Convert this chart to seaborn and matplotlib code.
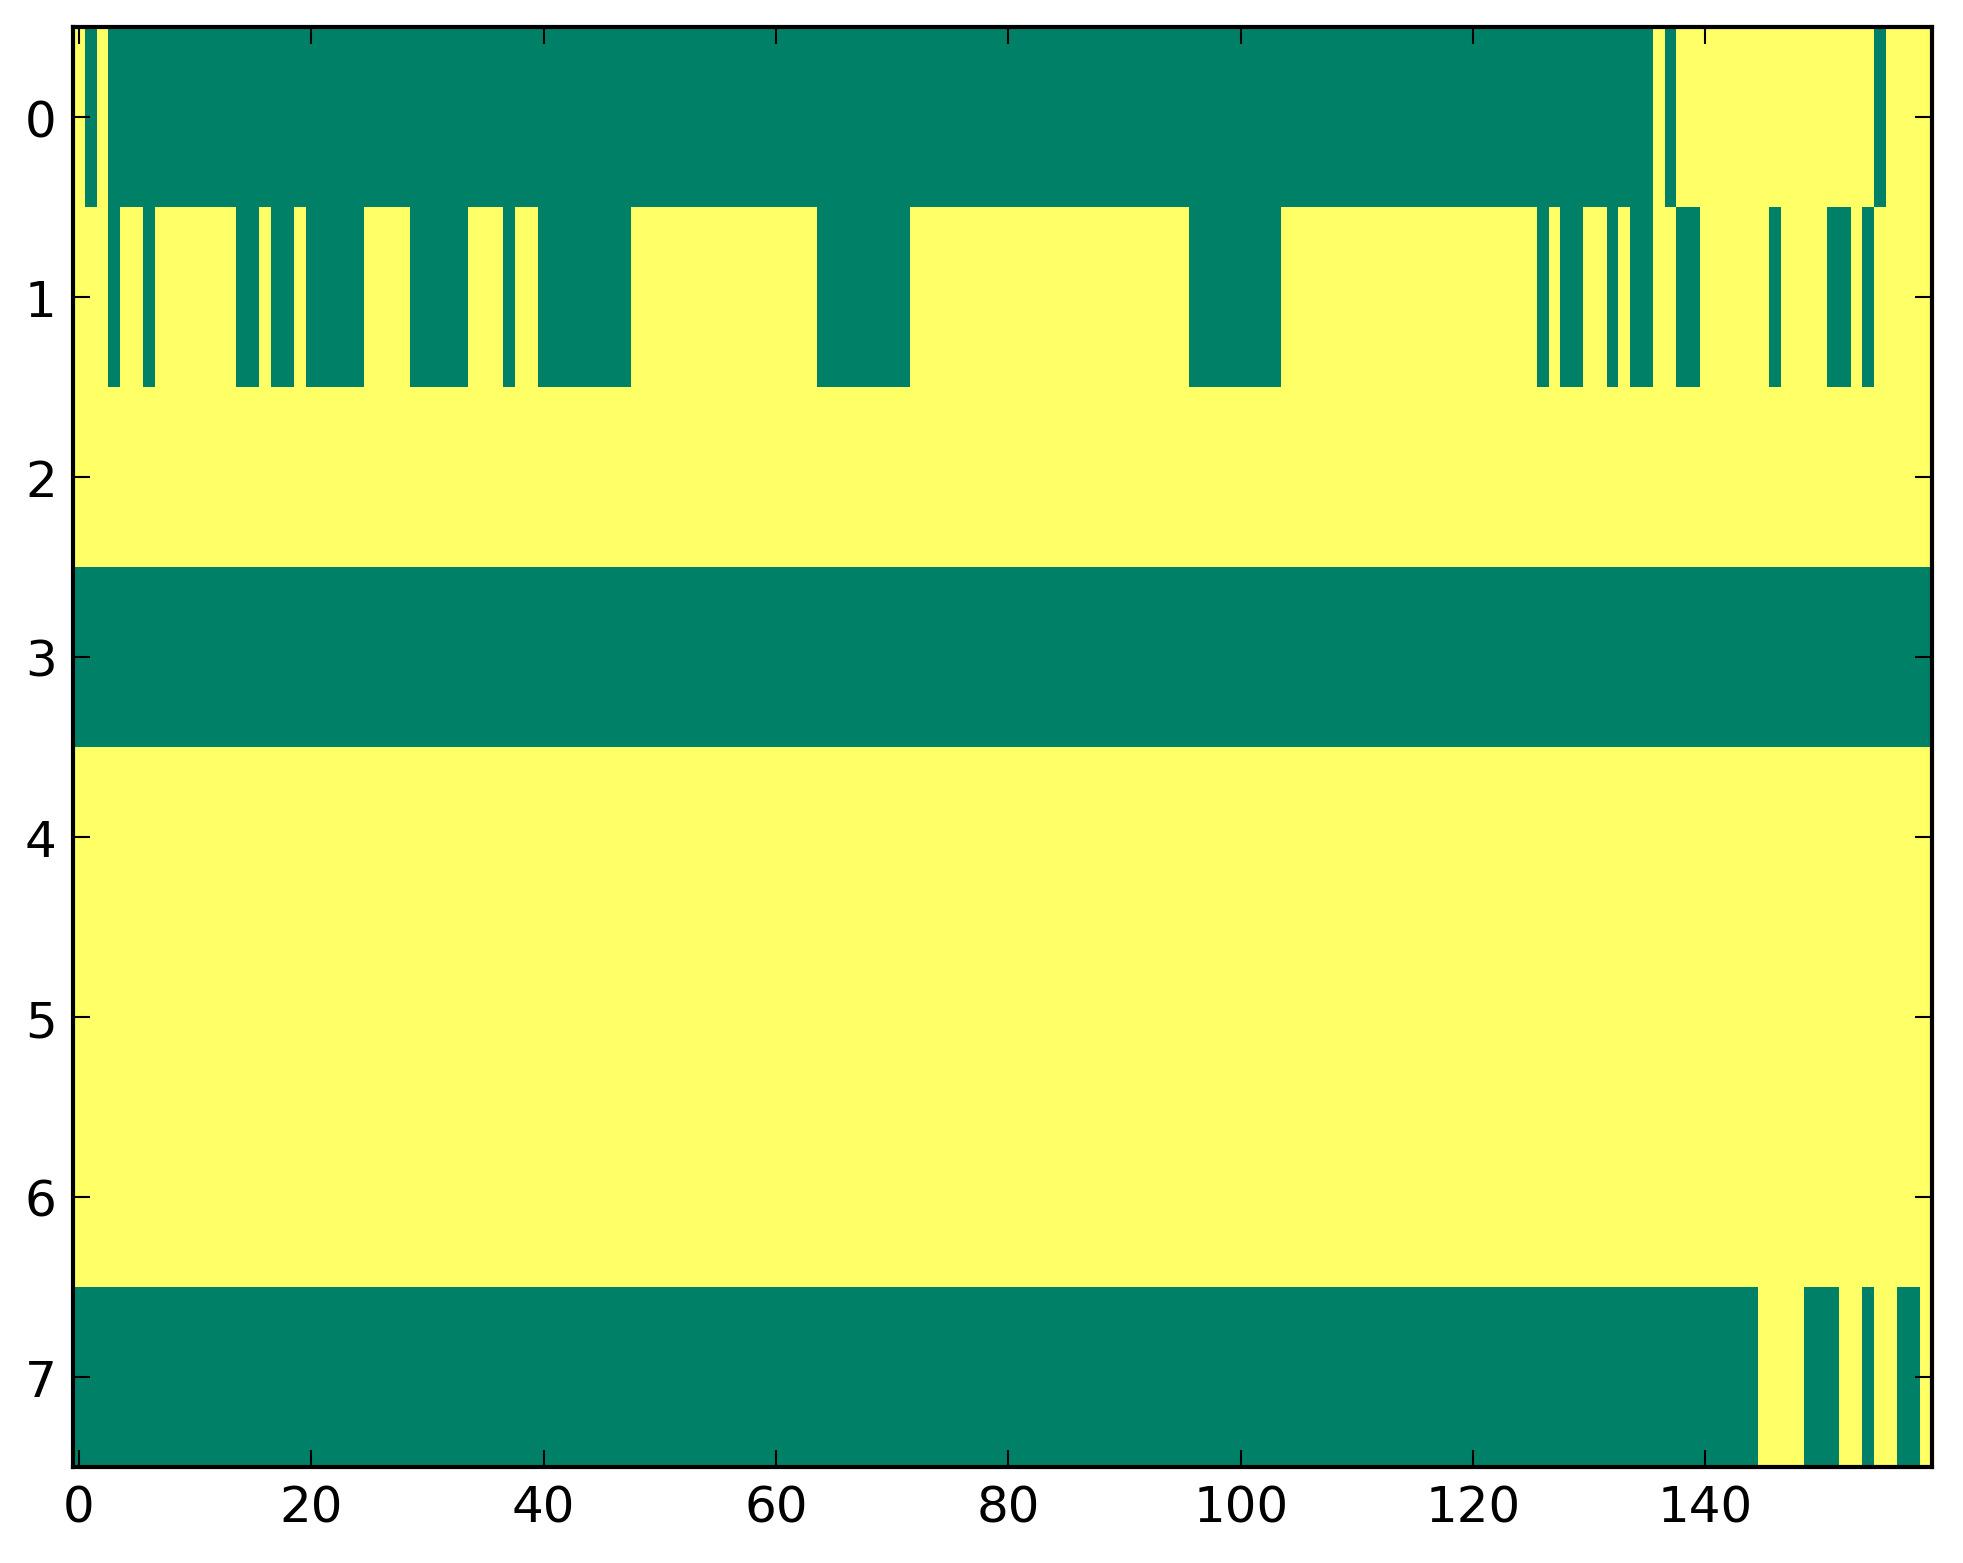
import numpy as np
import pandas as pd
import matplotlib
matplotlib.use("Agg")
import matplotlib.pyplot as plt
import seaborn as sns

n_cols = 160
row_labels = [0, 1, 2, 3, 4, 5, 6, 7]
x_tick_values = [0, 20, 40, 60, 80, 100, 120, 140]

# runs (inclusive column ranges) of value 0 in each row; all other cells are 1
row0_zero_runs = [(1, 1), (3, 135), (137, 137), (155, 155)]
row1_zero_runs = [(3, 3), (6, 6), (14, 15), (17, 18), (20, 24), (29, 33), (37, 37),
                  (40, 47), (64, 71), (96, 103), (126, 126), (128, 129), (132, 132),
                  (134, 135), (138, 139), (146, 146), (151, 152), (154, 154)]
row2_zero_runs = []
row3_zero_runs = [(0, 159)]
row4_zero_runs = []
row5_zero_runs = []
row6_zero_runs = []
row7_zero_runs = [(0, 144), (149, 151), (154, 154), (157, 158)]

all_runs = [row0_zero_runs, row1_zero_runs, row2_zero_runs, row3_zero_runs,
            row4_zero_runs, row5_zero_runs, row6_zero_runs, row7_zero_runs]

mat = np.ones((len(row_labels), n_cols))
for r, runs in enumerate(all_runs):
    for a, b in runs:
        mat[r, a:b + 1] = 0
df = pd.DataFrame(mat, index=row_labels, columns=range(n_cols))

W, H, DPI = 1963, 1564, 300
fig = plt.figure(figsize=(W / DPI, H / DPI), dpi=DPI, facecolor="white")
left, right, top, bottom = 73.3, 1932.0, 28.0, 1468.0
ax = fig.add_axes([left / W, (H - bottom) / H, (right - left) / W, (bottom - top) / H])

sns.heatmap(df, cmap="summer", vmin=0, vmax=1, cbar=False, ax=ax,
            xticklabels=False, yticklabels=False)

ax.set_xticks(np.array(x_tick_values) + 0.5)
ax.set_xticklabels([str(v) for v in x_tick_values], rotation=0, fontsize=12)
ax.set_yticks(np.array(row_labels) + 0.5)
ax.set_yticklabels([str(v) for v in row_labels], rotation=0, fontsize=12)
ax.set_xlabel("")
ax.set_ylabel("")
ax.tick_params(axis="both", which="major", direction="in", length=4, width=0.5,
               color="black", top=True, right=True, bottom=True, left=True,
               labelcolor="black", pad=4)
for s in ax.spines.values():
    s.set_visible(True)
    s.set_color("black")
    s.set_linewidth(1.0)

fig.savefig("out.png", dpi=DPI, facecolor="white")
